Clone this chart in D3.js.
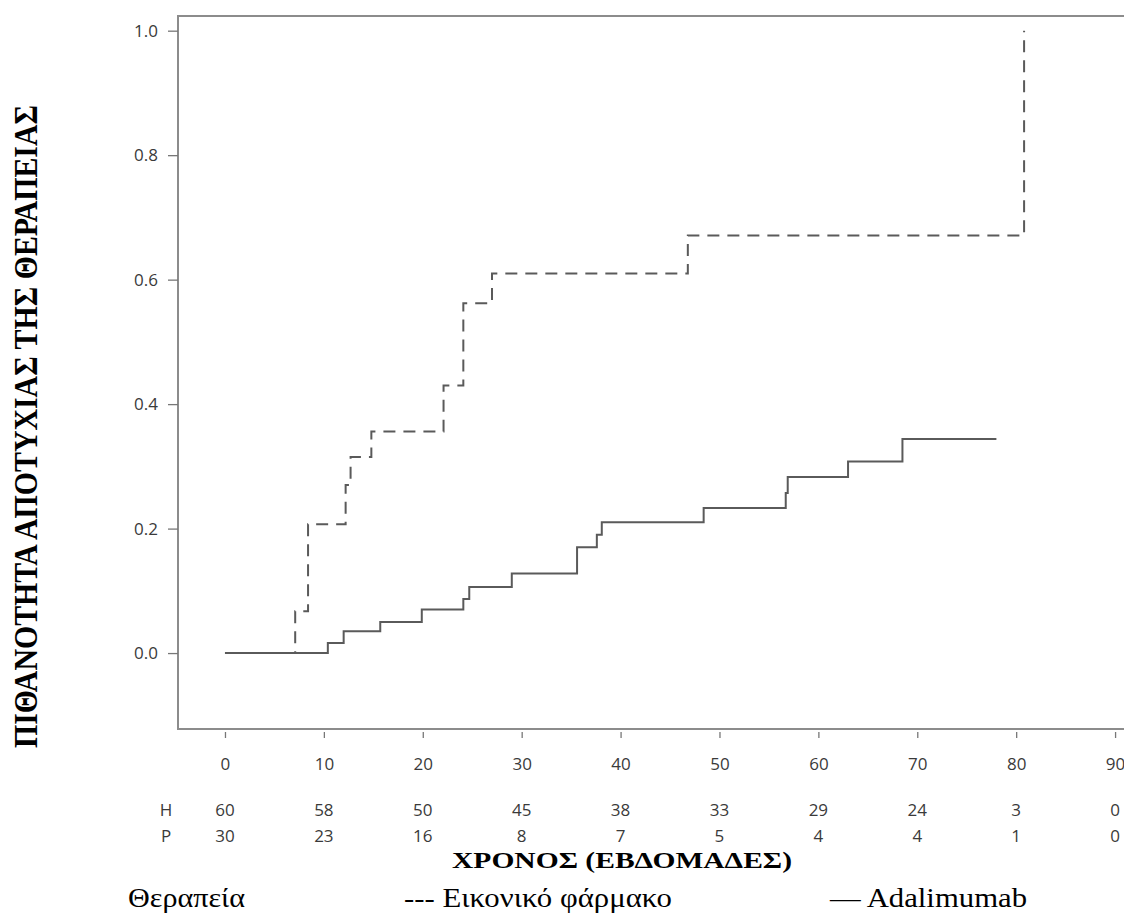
<!DOCTYPE html>
<html>
<head>
<meta charset="utf-8">
<script src="https://cdn.jsdelivr.net/npm/d3@7"></script>
<style>
  body { margin: 0; background: #fff; }
  .tick-label, .risk { font-family: "Open Sans", sans-serif; font-size: 17px; fill: #3a3a3a; }
  .serif { font-family: "Liberation Serif", "Times New Roman", serif; fill: #000; }
</style>
</head>
<body>
<div id="chart"></div>
<script>
// weeks ticks + numbers at risk
var weekTicks = [0, 10, 20, 30, 40, 50, 60, 70, 80, 90],
  riskH = [60, 58, 50, 45, 38, 33, 29, 24, 3, 0],
  riskP = [30, 23, 16, 8, 7, 5, 4, 4, 1, 0],
  probTicks = [0, 0.2, 0.4, 0.6, 0.8, 1.0];

// placebo (dashed) step curve
var placeboWeeks = [0, 7.1, 8.4, 12.2, 12.7, 14.8, 22.1, 24.1, 27.0, 46.8, 80.8],
  placeboProb = [0, 0.067, 0.207, 0.27, 0.315, 0.356, 0.43, 0.562, 0.61, 0.671, 1.0];

// adalimumab (solid) step curve
var adaWeeks = [0, 10.4, 12.0, 15.7, 19.9, 24.1, 24.7, 29.0, 35.6, 37.6, 38.1, 48.4, 56.7, 56.9, 63.0, 68.5, 78.0],
  adaProb = [0, 0.016, 0.035, 0.05, 0.07, 0.087, 0.106, 0.128, 0.17, 0.19, 0.21, 0.233, 0.257, 0.283, 0.308, 0.344, 0.344];

var width = 1124, height = 915;
var frame = {left: 178, top: 16, bottom: 729};

var svg = d3.select("#chart").append("svg")
    .attr("width", width)
    .attr("height", height);

svg.append("rect").attr("width", width).attr("height", height).attr("fill", "#fff");

var x = d3.scaleLinear()
  .domain([-4.75, 95])
  .range([frame.left, frame.left + 99.75 * 9.89]);

var y = d3.scaleLinear()
  .domain([-0.122, 1.0236])
  .range([frame.bottom, frame.top]);

// frame (right side runs off the page)
svg.append("path")
    .attr("d", "M1140," + frame.top + "H" + frame.left + "V" + frame.bottom + "H1140")
    .attr("fill", "none")
    .attr("stroke", "#8c8c8c")
    .attr("stroke-width", 2);

// y axis
var yAxis = svg.append("g")
    .attr("transform", "translate(" + frame.left + ",0)")
    .call(d3.axisLeft(y).tickValues(probTicks).tickFormat(d3.format(".1f")).tickSize(10).tickPadding(10));
yAxis.select(".domain").remove();
yAxis.selectAll("line").attr("stroke", "#777").attr("stroke-width", 1.3);
yAxis.selectAll("text").attr("class", "tick-label").attr("fill", null);

// x axis
var xAxis = svg.append("g")
    .attr("transform", "translate(0," + (frame.bottom + 3) + ")")
    .call(d3.axisBottom(x).tickValues(weekTicks).tickSize(6).tickPadding(20));
xAxis.select(".domain").remove();
xAxis.selectAll("line").attr("stroke", "#777").attr("stroke-width", 1.3);
xAxis.selectAll("text").attr("class", "tick-label").attr("fill", null);

// step curves
var line = d3.line()
  .x(function(d){ return x(d[0]); })
  .y(function(d){ return y(d[1]); })
  .curve(d3.curveStepAfter);

svg.append("path")
    .datum(d3.zip(placeboWeeks, placeboProb))
    .attr("d", line)
    .attr("fill", "none")
    .attr("stroke", "#5a5a5a")
    .attr("stroke-width", 2)
    .attr("stroke-dasharray", "12,8");

svg.append("path")
    .datum(d3.zip(adaWeeks, adaProb))
    .attr("d", line)
    .attr("fill", "none")
    .attr("stroke", "#5a5a5a")
    .attr("stroke-width", 2);

// numbers at risk
var rows = [{label: "H", values: riskH, y: 816}, {label: "P", values: riskP, y: 842}];
rows.forEach(function(r){
  svg.append("text").attr("class", "risk")
      .attr("x", 166).attr("y", r.y).attr("text-anchor", "middle")
      .text(r.label);
  svg.selectAll(".risk-" + r.label)
      .data(r.values)
    .enter().append("text")
      .attr("class", "risk risk-" + r.label)
      .attr("x", function(d, i){ return x(weekTicks[i]); })
      .attr("y", r.y)
      .attr("text-anchor", "middle")
      .text(function(d){ return d; });
});

// axis titles
svg.append("text").attr("class", "serif")
    .attr("x", 452).attr("y", 868)
    .attr("font-size", 23).attr("font-weight", "bold")
    .attr("textLength", 340).attr("lengthAdjust", "spacingAndGlyphs")
    .text("ΧΡΟΝΟΣ (ΕΒΔΟΜΑΔΕΣ)");

svg.append("text").attr("class", "serif")
    .attr("transform", "translate(37,748) rotate(-90)")
    .attr("font-size", 34).attr("font-weight", "bold")
    .attr("textLength", 643).attr("lengthAdjust", "spacingAndGlyphs")
    .text("ΠΙΘΑΝΟΤΗΤΑ ΑΠΟΤΥΧΙΑΣ ΤΗΣ ΘΕΡΑΠΕΙΑΣ");

// legend row
var legendItems = [
  {text: "Θεραπεία", x: 128, w: 117},
  {text: "--- Εικονικό φάρμακο", x: 404, w: 268},
  {text: "— Adalimumab", x: 830, w: 197}
];
svg.selectAll(".legend-item")
    .data(legendItems)
  .enter().append("text")
    .attr("class", "legend-item serif")
    .attr("x", function(d){ return d.x; })
    .attr("y", 907)
    .attr("font-size", 27)
    .attr("textLength", function(d){ return d.w; })
    .attr("lengthAdjust", "spacingAndGlyphs")
    .text(function(d){ return d.text; });
</script>
</body>
</html>
